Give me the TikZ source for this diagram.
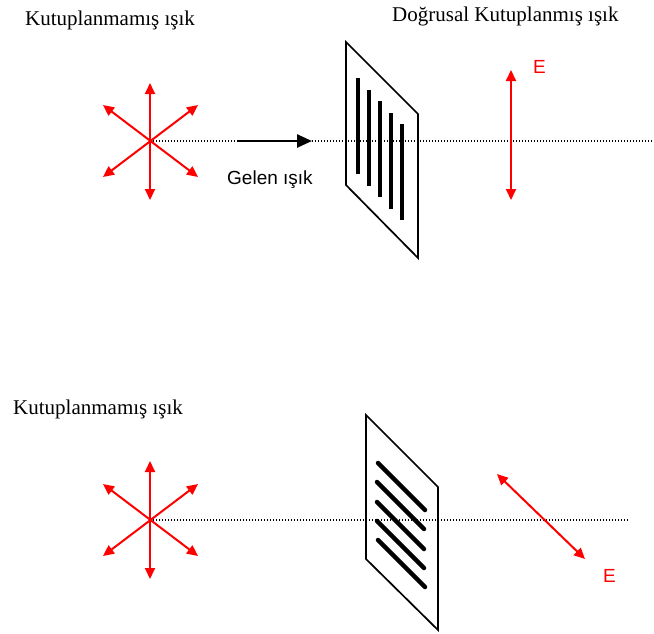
\documentclass[tikz,border=0pt]{standalone}
\usepackage{fontspec}
\setmainfont{Liberation Serif}
\setsansfont{Liberation Sans}
\usetikzlibrary{arrows.meta}

\begin{document}
\begin{tikzpicture}[x=1pt, y=-1pt,
    title/.style={anchor=base west, inner sep=0pt, font=\fontsize{21}{25}\selectfont},
    sanstext/.style={anchor=base west, inner sep=0pt, font=\sffamily\fontsize{19}{23}\selectfont},
    field/.style={red, line width=2pt, {Triangle[length=11pt,width=10pt]}-{Triangle[length=11pt,width=10pt]}},
    axis/.style={line width=1.3pt, dash pattern=on 1.2pt off 1.8pt},
    frame/.style={line width=1.7pt, line join=miter},
    slit/.style={line width=4.5pt}]
    \useasboundingbox (0,0) rectangle (654,633);

    % top row: unpolarised light through a vertical polariser
    \node[title] (t1) at (25,25) {Kutuplanmamış ışık};
    \node[title] (t2) at (392,21) {Doğrusal Kutuplanmış ışık};

    \coordinate (s1) at (150,141);
    \coordinate (s1n) at (150,83);
    \coordinate (s1s) at (150,200);
    \coordinate (s1ne) at (198,105);
    \coordinate (s1sw) at (103,177);
    \coordinate (s1nw) at (103,105);
    \coordinate (s1se) at (198,177);
    \coordinate (s1end) at (652,141);
    \draw[axis] (s1) -- (s1end);
    \draw[field] (s1n) -- (s1s);
    \draw[field] (s1ne) -- (s1sw);
    \draw[field] (s1nw) -- (s1se);

    \coordinate (in1) at (238,141);
    \coordinate (in2) at (312,141);
    \draw[line width=2.5pt, -{Triangle[length=15pt,width=13pt]}] (in1) -- (in2);
    \node[sanstext] (gelen) at (227,184) {Gelen ışık};

    \draw[frame] (346,42) -- (418,114) -- (418,258) -- (346,185) -- cycle;
    \draw[slit] (358,78) -- (358,174);
    \draw[slit] (369,90) -- (369,186);
    \draw[slit] (380,101) -- (380,197);
    \draw[slit] (391,113) -- (391,209);
    \draw[slit] (402,124) -- (402,220);

    \coordinate (e1a) at (511,70);
    \coordinate (e1b) at (511,200);
    \draw[field] (e1a) -- (e1b);
    \node[sanstext, red] (e1) at (533,73) {E};

    % bottom row: same light through a tilted polariser
    \node[title] (t3) at (13,414) {Kutuplanmamış ışık};

    \coordinate (s2) at (150,520);
    \coordinate (s2n) at (150,461);
    \coordinate (s2s) at (150,579);
    \coordinate (s2ne) at (198,484);
    \coordinate (s2sw) at (103,556);
    \coordinate (s2nw) at (103,484);
    \coordinate (s2se) at (198,556);
    \coordinate (s2end) at (628,520);
    \draw[axis] (s2) -- (s2end);
    \draw[field] (s2n) -- (s2s);
    \draw[field] (s2ne) -- (s2sw);
    \draw[field] (s2nw) -- (s2se);

    \draw[frame] (366,415) -- (438,487) -- (438,630) -- (366,559) -- cycle;
    \draw[slit, line cap=round] (378,463) -- (425,510);
    \draw[slit, line cap=round] (377,482) -- (424,529);
    \draw[slit, line cap=round] (377,502) -- (424,549);
    \draw[slit, line cap=round] (377,521) -- (424,568);
    \draw[slit, line cap=round] (378,540) -- (425,587);

    \coordinate (e2a) at (497,474);
    \coordinate (e2b) at (585,559);
    \draw[field] (e2a) -- (e2b);
    \node[sanstext, red] (e2) at (603,582) {E};
\end{tikzpicture}
\end{document}
